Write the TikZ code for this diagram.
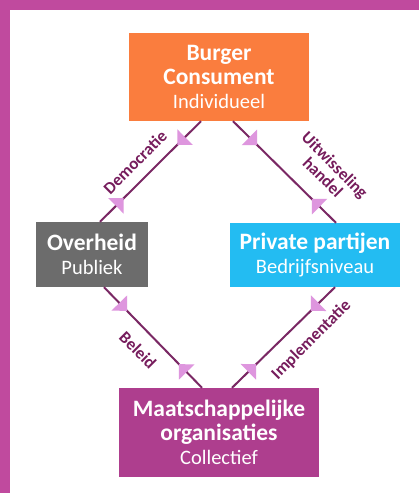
\documentclass[tikz,border=0pt]{standalone}
\usepackage{fontspec}
\setmainfont{Carlito}
\usetikzlibrary{arrows.meta,decorations.markings,calc}

\definecolor{burgeroranje}{RGB}{250,125,62}
\definecolor{overheidgrijs}{RGB}{108,108,108}
\definecolor{privaatblauw}{RGB}{35,188,242}
\definecolor{maatpaars}{RGB}{174,62,142}
\definecolor{kaderroze}{RGB}{192,74,158}
\definecolor{lijnpaars}{RGB}{122,40,100}
\definecolor{tekstpaars}{RGB}{118,28,92}
\definecolor{pijlroze}{RGB}{222,150,222}

\newcommand{\niveau}[1]{{\mdseries\fontsize{20.5}{24}\selectfont #1}}

\begin{document}
\begin{tikzpicture}[x=1pt, y=-1pt]
\tikzset{partij/.style={text=white, inner sep=0pt, align=center, font=\fontsize{23.5}{24}\selectfont\bfseries}}
\tikzset{pijlpunt/.tip={Triangle[length=11pt, width=22pt, line width=0pt, color=pijlroze]}}
\tikzset{relatie/.style={draw=lijnpaars, line width=2pt,
  postaction={decorate, opacity=.88, decoration={markings,
    mark=at position .235 with {\arrow{pijlpunt}},
    mark=at position .765 with {\arrowreversed{pijlpunt}}}}}}
\tikzset{relatielabel/.style={text=tekstpaars, inner sep=0pt, align=center, font=\fontsize{17}{17}\selectfont\bfseries}}
\useasboundingbox (0,0) rectangle (419,493);
\fill[white] (0,0) rectangle (419,493);
\fill[kaderroze] (0,0) rectangle (419,10);
\fill[kaderroze] (0,0) rectangle (10,493);

\node[partij, fill=burgeroranje, minimum width=180pt, minimum height=88pt] (burger) at (219,77) {Burger\\Consument\\\niveau{Individueel}};
\node[partij, fill=overheidgrijs, minimum width=112pt, minimum height=65pt] (overheid) at (92,254.5) {Overheid\\\niveau{Publiek}};
\node[partij, fill=privaatblauw, minimum width=170pt, minimum height=64pt] (private) at (315,255) {Private partijen\\\niveau{Bedrijfsniveau}};
\node[partij, fill=maatpaars, minimum width=200pt, minimum height=89pt] (maatschappij) at (219,432.5) {Maatschappelijke\\organisaties\\\niveau{Collectief}};

\draw[relatie] ([xshift=-18pt]burger.south) -- ([xshift=8pt]overheid.north);
\draw[relatie] ([xshift=14pt]burger.south) -- ([xshift=21pt]private.north);
\draw[relatie] ([xshift=12pt]overheid.south) -- ([xshift=-17pt]maatschappij.north);
\draw[relatie] ([xshift=20pt]private.south) -- ([xshift=13pt]maatschappij.north);

\node[relatielabel, rotate=45] (democratie) at (135,162) {Democratie};
\node[relatielabel, rotate=-45] (uitwisseling) at (329,171) {Uitwisseling\\handel};
\node[relatielabel, rotate=-45] (beleid) at (138,350) {Beleid};
\node[relatielabel, rotate=45] (implementatie) at (311.5,340) {Implementatie};
\end{tikzpicture}
\end{document}
